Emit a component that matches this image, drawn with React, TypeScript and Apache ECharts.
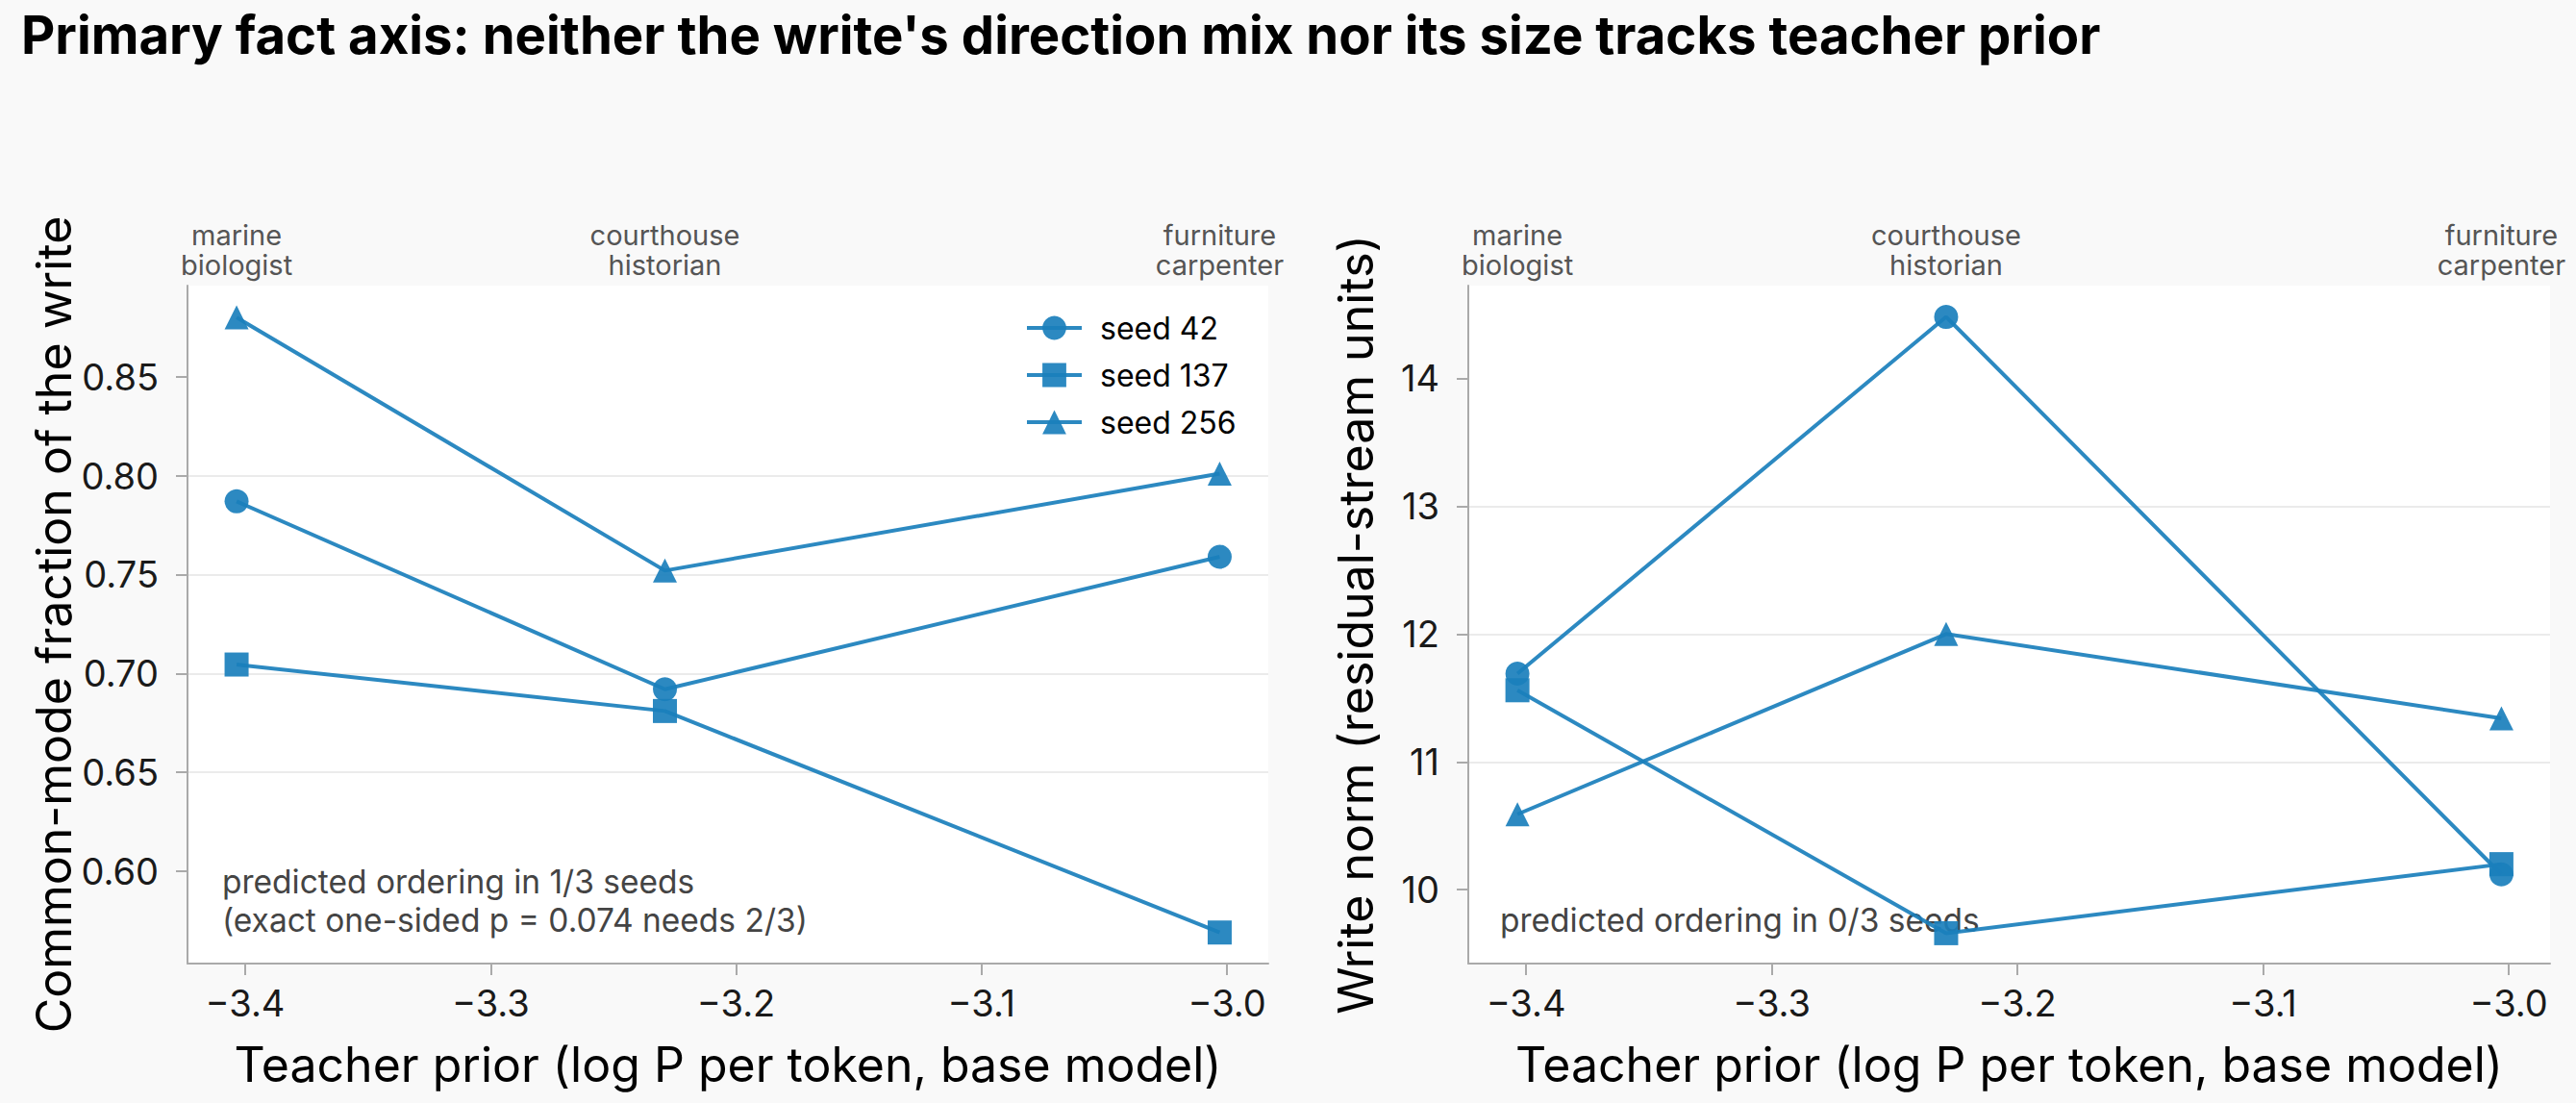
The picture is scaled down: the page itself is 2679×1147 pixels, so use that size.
import React, { useEffect, useRef } from "react";
import * as echarts from "echarts";

const titleText =
  "Primary fact axis: neither the write's direction mix nor its size tracks teacher prior";
const categories = ["marine\nbiologist", "courthouse\nhistorian", "furniture\ncarpenter"];
const teacherPrior = [-3.4035, -3.229, -3.003];
const seedNames = ["seed 42", "seed 137", "seed 256"];
const seedSymbols = ["circle", "rect", "triangle"];
const commonMode42 = [0.787, 0.692, 0.759];
const commonMode137 = [0.7045, 0.681, 0.569];
const commonMode256 = [0.88, 0.752, 0.801];
const writeNorm42 = [11.69, 14.48, 10.12];
const writeNorm137 = [11.56, 9.66, 10.2];
const writeNorm256 = [10.59, 12.0, 11.34];
const xTicks = [-3.4, -3.3, -3.2, -3.1, -3.0];
const commonModeTicks = [0.6, 0.65, 0.7, 0.75, 0.8, 0.85];
const writeNormTicks = [10, 11, 12, 13, 14];
const xName = "Teacher prior (log P per token, base model)";
const leftYName = "Common-mode fraction of the write";
const rightYName = "Write norm (residual-stream units)";
const leftNote = "predicted ordering in 1/3 seeds\n(exact one-sided p = 0.074 needs 2/3)";
const rightNote = "predicted ordering in 0/3 seeds";

const X_MIN = -3.4235;
const X_MAX = -2.9832;
const LEFT_Y = [0.5533, 0.8961];
const RIGHT_Y = [9.4224, 14.725];

const FONT = "Inter";
const COLOR = "#1a7fbc";
const AXIS_GRAY = "#aaaaaa";

const minus = (s: string) => s.replace("-", "\u2212");

function bottomX(gridIndex: number) {
  return {
    type: "value",
    gridIndex,
    position: "bottom",
    min: X_MIN,
    max: X_MAX,
    splitNumber: 5,
    axisLine: { show: true, onZero: false, lineStyle: { color: AXIS_GRAY, width: 2 } },
    axisTick: {
      show: true,
      length: 12,
      customValues: xTicks,
      lineStyle: { color: AXIS_GRAY, width: 2 },
    },
    axisLabel: {
      customValues: xTicks,
      formatter: (v: number) => minus(v.toFixed(1)),
      fontSize: 38,
      color: "#1a1a1a",
      fontFamily: FONT,
      margin: 22,
    },
    splitLine: { show: false },
    name: xName,
    nameLocation: "middle",
    nameGap: 80,
    nameTextStyle: { fontSize: 50, color: "#000", fontFamily: FONT },
  };
}

function topX(gridIndex: number) {
  return {
    type: "value",
    gridIndex,
    position: "top",
    min: X_MIN,
    max: X_MAX,
    splitNumber: 5,
    axisLine: { show: false },
    axisTick: { show: false },
    splitLine: { show: false },
    axisLabel: {
      customValues: teacherPrior,
      formatter: (v: number) => {
        let best = 0;
        teacherPrior.forEach((p, i) => {
          if (Math.abs(p - v) < Math.abs(teacherPrior[best] - v)) best = i;
        });
        return categories[best];
      },
      fontSize: 29,
      lineHeight: 31,
      color: "#555555",
      fontFamily: FONT,
      margin: 6,
      align: "center",
    },
  };
}

function yAxis(
  gridIndex: number,
  range: number[],
  ticks: number[],
  digits: number,
  name: string,
  nameGap: number
) {
  return {
    type: "value",
    gridIndex,
    min: range[0],
    max: range[1],
    splitNumber: 5,
    axisLine: { show: true, onZero: false, lineStyle: { color: AXIS_GRAY, width: 2 } },
    axisTick: {
      show: true,
      length: 12,
      customValues: ticks,
      lineStyle: { color: AXIS_GRAY, width: 2 },
    },
    axisLabel: {
      customValues: ticks,
      formatter: (v: number) => v.toFixed(digits),
      fontSize: 38,
      color: "#1a1a1a",
      fontFamily: FONT,
      margin: 30,
    },
    splitLine: {
      show: true,
      showMinLine: false,
      showMaxLine: false,
      lineStyle: { color: "#ebebeb", width: 2 },
    },
    name,
    nameLocation: "middle",
    nameRotate: 90,
    nameGap,
    nameTextStyle: { fontSize: 50, color: "#000", fontFamily: FONT },
  };
}

function seriesFor(values: number[][], xAxisIndex: number, yAxisIndex: number) {
  return values.map((arr, i) => ({
    type: "line",
    name: seedNames[i],
    xAxisIndex,
    yAxisIndex,
    data: teacherPrior.map((x, j) => [x, arr[j]]),
    symbol: seedSymbols[i],
    symbolSize: 25,
    showAllSymbol: true,
    lineStyle: { color: COLOR, width: 4, opacity: 0.92 },
    itemStyle: { color: COLOR, opacity: 0.92 },
    emphasis: { disabled: true },
  }));
}

export default function App() {
  const ref = useRef<HTMLDivElement>(null);
  useEffect(() => {
    if (!ref.current) return;
    const chart = echarts.init(ref.current, undefined, { renderer: "svg" });
    chart.setOption({
      animation: false,
      backgroundColor: "#f9f9f9",
      textStyle: { fontFamily: FONT },
      title: {
        text: titleText,
        left: 17,
        top: 3,
        textStyle: { fontSize: 54.5, fontWeight: "bold", color: "#000", fontFamily: FONT },
      },
      legend: {
        data: seedNames,
        orient: "vertical",
        left: 1066,
        top: 325,
        itemWidth: 57,
        itemHeight: 31,
        itemGap: 17,
        padding: 0,
        lineStyle: { width: 4 },
        textStyle: { fontSize: 32, color: "#000", fontFamily: FONT, padding: [0, 0, 0, 14] },
      },
      grid: [
        {
          left: 195,
          top: 297,
          width: 1124,
          height: 705,
          show: true,
          backgroundColor: "#ffffff",
          borderWidth: 0,
        },
        {
          left: 1527,
          top: 297,
          width: 1125,
          height: 705,
          show: true,
          backgroundColor: "#ffffff",
          borderWidth: 0,
        },
      ],
      xAxis: [bottomX(0), topX(0), bottomX(1), topX(1)],
      yAxis: [
        yAxis(0, LEFT_Y, commonModeTicks, 2, leftYName, 112),
        yAxis(1, RIGHT_Y, writeNormTicks, 0, rightYName, 92),
      ],
      graphic: [
        {
          type: "text",
          x: 231,
          y: 977,
          style: {
            text: leftNote,
            fontSize: 33.5,
            lineHeight: 40,
            fill: "#444444",
            fontFamily: FONT,
            textVerticalAlign: "bottom",
          },
        },
        {
          type: "text",
          x: 1560,
          y: 977,
          style: {
            text: rightNote,
            fontSize: 33.5,
            lineHeight: 40,
            fill: "#444444",
            fontFamily: FONT,
            textVerticalAlign: "bottom",
          },
        },
      ],
      series: [
        ...seriesFor([commonMode42, commonMode137, commonMode256], 0, 0),
        ...seriesFor([writeNorm42, writeNorm137, writeNorm256], 2, 1),
      ],
    });
    return () => chart.dispose();
  }, []);
  return (
    <div
      ref={ref}
      style={{ position: "fixed", left: 0, top: 0, width: "2679px", height: "1147px" }}
    />
  );
}
